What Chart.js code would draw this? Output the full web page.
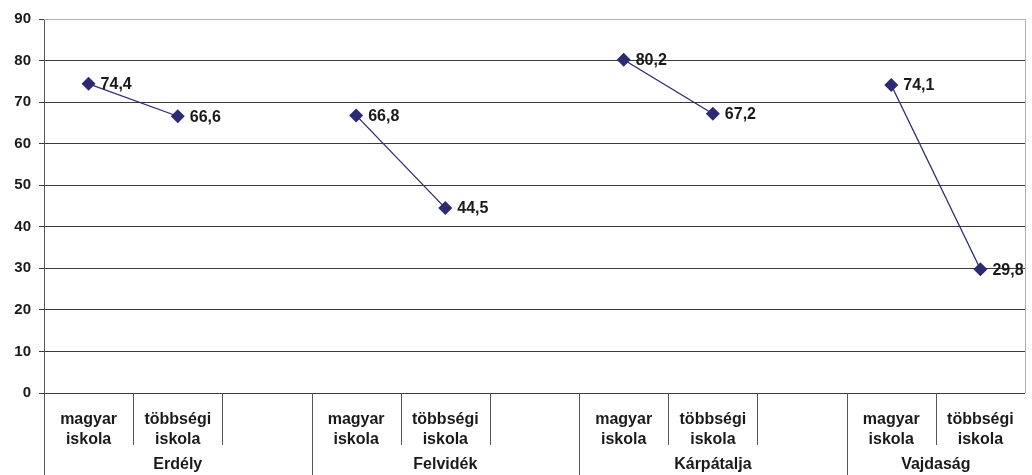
<!DOCTYPE html>
<html>
<head>
<meta charset="utf-8">
<script src="https://cdn.jsdelivr.net/npm/chart.js@4/dist/chart.umd.min.js"></script>
<style>
  html, body { margin: 0; padding: 0; background: #fff; }
  #wrap { width: 1032px; height: 475px; position: relative; }
</style>
</head>
<body>
<div id="wrap"><canvas id="chart"></canvas></div>
<script>
// categories along the x axis (blank slot = gap between regions)
const categories = [
    ['magyar', 'iskola'], ['többségi', 'iskola'], '',
    ['magyar', 'iskola'], ['többségi', 'iskola'], '',
    ['magyar', 'iskola'], ['többségi', 'iskola'], '',
    ['magyar', 'iskola'], ['többségi', 'iskola']
];
const regions = ['Erdély', 'Felvidék', 'Kárpátalja', 'Vajdaság'];
const regionSizes = [3, 3, 3, 2];
const values = [74.4, 66.6, null, 66.8, 44.5, null, 80.2, 67.2, null, 74.1, 29.8];
const yTicks = [0, 10, 20, 30, 40, 50, 60, 70, 80, 90];

const FONT = 'Liberation Sans';
const NAVY = '#2d2a72';

// value labels to the right of each point
const pointLabels = {
    id: 'pointLabels',
    afterDatasetsDraw(chart) {
        const ctx = chart.ctx;
        const meta = chart.getDatasetMeta(0);
        ctx.save();
        ctx.font = 'bold 16px "' + FONT + '"';
        ctx.fillStyle = '#1a1a1a';
        ctx.textBaseline = 'middle';
        ctx.textAlign = 'left';
        meta.data.forEach((pt, i) => {
            if (values[i] === null) return;
            ctx.fillText(String(values[i]).replace('.', ','), pt.x + 12, pt.y + 1);
        });
        ctx.restore();
    }
};

// category separators + region names under the x axis
const regionAxis = {
    id: 'regionAxis',
    afterDraw(chart) {
        const ctx = chart.ctx;
        const x = chart.scales.x;
        const area = chart.chartArea;
        const step = (x.right - x.left) / categories.length;
        const edge = i => x.getPixelForValue(i) - step / 2;
        ctx.save();
        ctx.strokeStyle = '#555';
        ctx.lineWidth = 1;
        ctx.font = 'bold 16px "' + FONT + '"';
        ctx.fillStyle = '#1a1a1a';
        ctx.textAlign = 'center';
        ctx.textBaseline = 'alphabetic';
        let start = 0;
        regions.forEach((name, g) => {
            const n = regionSizes[g];
            // long line at region start
            const gx = Math.round(edge(start)) + 0.5;
            ctx.beginPath();
            ctx.moveTo(gx, area.bottom);
            ctx.lineTo(gx, chart.height);
            ctx.stroke();
            // short lines inside region
            for (let k = 1; k < n; k++) {
                const sx = Math.round(edge(start + k)) + 0.5;
                ctx.beginPath();
                ctx.moveTo(sx, area.bottom);
                ctx.lineTo(sx, area.bottom + 52);
                ctx.stroke();
            }
            const right = Math.min(edge(start + n), x.right);
            ctx.fillText(name, (edge(start) + right) / 2, area.bottom + 76);
            start += n;
        });
        // light frame on top and right of the plot
        ctx.strokeStyle = '#b0b0b0';
        ctx.beginPath();
        ctx.moveTo(area.left, Math.round(area.top) + 0.5);
        ctx.lineTo(Math.round(area.right) + 0.5, Math.round(area.top) + 0.5);
        ctx.lineTo(Math.round(area.right) + 0.5, area.bottom);
        ctx.stroke();
        ctx.restore();
    }
};

new Chart(document.getElementById('chart'), {
    type: 'line',
    data: {
        labels: categories,
        datasets: [{
            data: values,
            borderColor: NAVY,
            borderWidth: 1.3,
            backgroundColor: NAVY,
            pointStyle: 'rectRot',
            pointRadius: 7,
            pointBorderWidth: 0,
            spanGaps: false,
            tension: 0
        }]
    },
    options: {
        responsive: true,
        maintainAspectRatio: false,
        animation: false,
        layout: { padding: { top: 19, right: 5, left: 0, bottom: 0 } },
        plugins: {
            legend: { display: false },
            tooltip: { enabled: false }
        },
        scales: {
            x: {
                offset: true,
                grid: { display: false },
                border: { display: false },
                ticks: {
                    autoSkip: false,
                    maxRotation: 0,
                    padding: 9,
                    color: '#1a1a1a',
                    font: { family: FONT, size: 16, weight: 'bold', lineHeight: 1.25 }
                },
                afterFit(scale) { scale.height = 82; }
            },
            y: {
                min: 0,
                max: 90,
                afterBuildTicks(scale) { scale.ticks = yTicks.map(v => ({ value: v })); },
                grid: {
                    color: ctx => (ctx.tick && ctx.tick.value === 90) ? '#b0b0b0' : '#3a3a3a',
                    tickColor: '#3a3a3a',
                    tickLength: 5
                },
                border: { display: true, color: '#555' },
                ticks: {
                    padding: 8,
                    color: '#1a1a1a',
                    font: { family: FONT, size: 15, weight: 'bold' }
                },
                afterFit(scale) { scale.width = 44; }
            }
        }
    },
    plugins: [pointLabels, regionAxis]
});
</script>
</body>
</html>
